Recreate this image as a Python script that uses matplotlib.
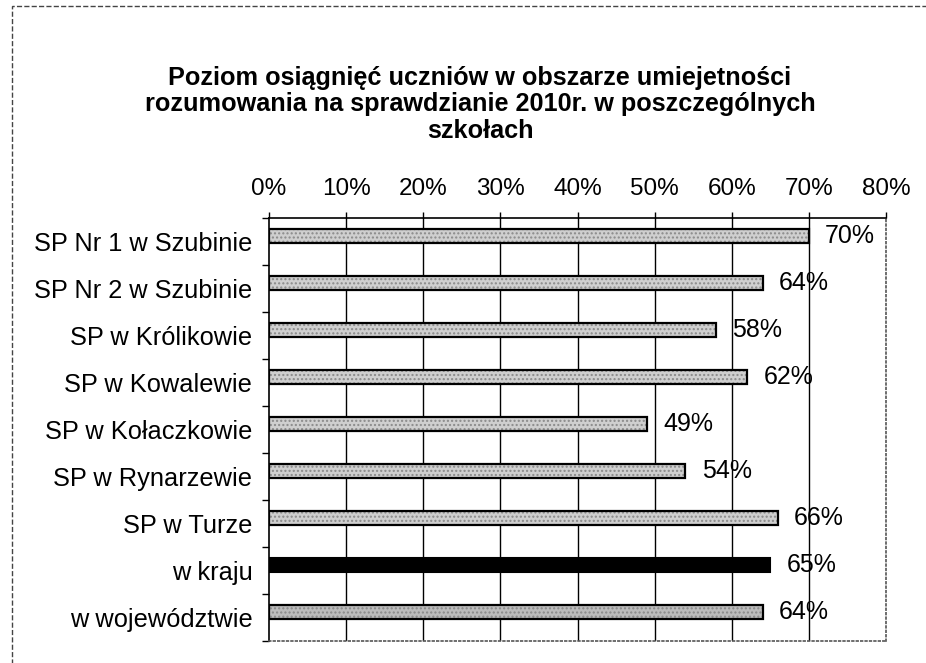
import matplotlib
matplotlib.use("Agg")
import matplotlib.pyplot as plt
from matplotlib.patches import Rectangle
import numpy as np

plt.rcParams['font.family'] = ['Liberation Sans', 'DejaVu Sans']

categories = ["SP Nr 1 w Szubinie", "SP Nr 2 w Szubinie", "SP w Królikowie",
              "SP w Kowalewie", "SP w Kołaczkowie", "SP w Rynarzewie",
              "SP w Turze", "w kraju", "w województwie"]
values = [70, 64, 58, 62, 49, 54, 66, 65, 64]
colors = ["#cfcfcf"] * 7 + ["#000000", "#bcbcbc"]
xticks = [0, 10, 20, 30, 40, 50, 60, 70, 80]
title = ("Poziom osiągnięć uczniów w obszarze umiejetności\n"
         "rozumowania na sprawdzianie 2010r. w poszczególnych\nszkołach")

fig = plt.figure(figsize=(9.26, 6.63), dpi=100)
ax = fig.add_axes([269/926, 1-641/663, (886-269)/926, (641-218)/663])

y = np.arange(len(categories))
off = -0.11
for i, (v, c) in enumerate(zip(values, colors)):
    if c == "#000000":
        ax.barh(i + off, v, height=0.3, color="black", edgecolor="black", linewidth=1.5, zorder=3)
    else:
        ax.barh(i + off, v, height=0.3, color=c, edgecolor="#8a8a8a", hatch="....",
                linewidth=0, zorder=3)
        ax.barh(i + off, v, height=0.3, fill=False, edgecolor="black", linewidth=1.6, zorder=4)
    ax.text(v + 2.1, i + off, f"{v}%", va="center", ha="left", fontsize=18, zorder=5)

ax.set_xlim(0, 80)
ax.set_ylim(len(categories) - 0.5, -0.5)
ax.set_xticks(xticks)
ax.set_xticklabels([f"{t}%" for t in xticks], fontsize=17.5)
ax.xaxis.tick_top()
ax.tick_params(axis="x", length=4, width=1, pad=9, top=True, bottom=False)
ax.set_yticks(y)
ax.set_yticklabels(categories, fontsize=18.3)
ax.set_yticks(np.arange(len(categories) + 1) - 0.5, minor=True)
ax.tick_params(axis="y", which="major", length=0, pad=12)
ax.tick_params(axis="y", which="minor", length=5, width=1, direction="out")

for t in xticks[1:-1]:
    ax.axvline(t, color="black", linewidth=1, zorder=1)

ax.spines["top"].set_linewidth(1.2)
ax.spines["left"].set_linewidth(1.2)
for s in ("right", "bottom"):
    ax.spines[s].set_linestyle(":")
    ax.spines[s].set_color("#555555")
    ax.spines[s].set_linewidth(1.2)

fig.text(480/926, 1-66/663, title, ha="center", va="top", fontsize=18.2,
         fontweight="bold", linespacing=1.12)

frame = Rectangle((12/926, -0.05), 1.2, 1.05 - 6/663, transform=fig.transFigure,
                  fill=False, edgecolor="#444444", linewidth=1, linestyle="--", zorder=0)
fig.patches.append(frame)

fig.savefig("out.png", dpi=100)
